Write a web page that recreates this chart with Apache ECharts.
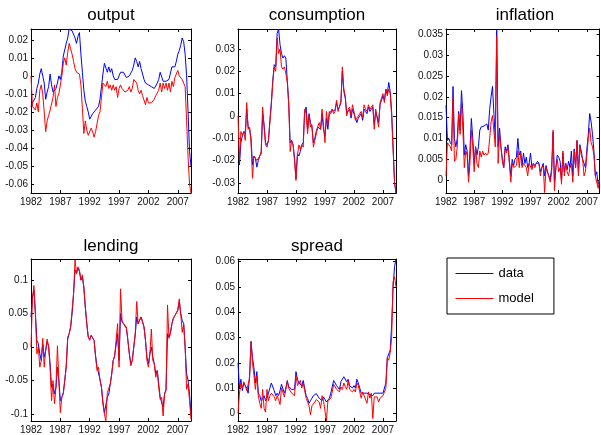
<!DOCTYPE html>
<html><head><meta charset="utf-8">
<script src="https://cdn.jsdelivr.net/npm/echarts@6/dist/echarts.min.js"></script>
<style>html,body{margin:0;padding:0;background:#fff}#c{width:601px;height:435px}</style>
</head><body><div id="c"></div>
<script>
// quarterly observations, 1982Q1 .. 2009Q2
const startYear = 1982;
const nQuarters = 110;
const xTickYears = [1982, 1987, 1992, 1997, 2002, 2007];

const outputData = [
-0.017,-0.015,-0.016,-0.012, -0.007,-0.004,0.001,0.004, 0.005,-0.004,-0.013,-0.009,
-0.006,0.001,-0.005,-0.009, -0.010,-0.007,-0.004,0.000, -0.002,0.002,0.011,0.012,
0.018,0.021,0.026,0.025, 0.025,0.024,0.021,0.018, 0.022,0.024,0.012,0.002,
-0.008,-0.014,-0.017,-0.020, -0.024,-0.023,-0.021,-0.020, -0.019,-0.019,-0.017,-0.013,
-0.006,0.001,0.007,0.007, 0.002,0.005,0.002,0.004, 0.000,-0.002,-0.002,-0.002,
-0.001,0.002,0.001,0.002, 0.001,-0.001,-0.002,0.000, -0.001,0.003,0.006,0.010,
0.008,0.005,0.008,0.004, 0.001,-0.002,-0.004,-0.004, -0.005,-0.005,-0.006,-0.007,
-0.007,-0.006,-0.004,-0.002, 0.002,0.001,-0.003,-0.002, -0.003,-0.002,-0.002,-0.001,
0.005,0.004,0.005,0.008, 0.012,0.014,0.017,0.021, 0.019,0.012,0.000,-0.020,
-0.042,-0.050];
const outputModel = [
0.000,-0.017,-0.018,-0.019, -0.015,-0.020,-0.008,-0.005, -0.010,-0.020,-0.031,-0.025,
-0.022,-0.019,-0.020,-0.012, -0.005,-0.017,-0.012,-0.010, -0.010,0.000,0.007,0.010,
0.006,0.013,0.018,0.015, 0.012,0.008,0.004,0.002, 0.002,0.001,-0.005,-0.018,
-0.032,-0.025,-0.030,-0.033, -0.034,-0.029,-0.031,-0.034, -0.031,-0.030,-0.022,-0.020,
-0.012,-0.004,-0.003,-0.006, -0.003,-0.007,-0.005,-0.008, -0.005,-0.008,-0.006,-0.012,
-0.007,-0.005,-0.007,-0.008, -0.009,-0.008,-0.008,-0.006, -0.009,-0.007,-0.002,-0.001,
-0.004,-0.008,-0.010,-0.008, -0.011,-0.010,-0.016,-0.012, -0.015,-0.016,-0.015,-0.015,
-0.013,-0.011,-0.010,-0.008, -0.004,-0.009,-0.004,-0.007, -0.004,-0.008,-0.004,-0.009,
-0.003,-0.006,-0.001,0.001, 0.003,0.000,0.001,-0.002, -0.002,-0.006,-0.025,-0.045,
-0.060,-0.065];

const consData = [
-0.021,-0.022,-0.012,-0.009, -0.007,-0.008,0.003,-0.005, -0.006,-0.010,-0.022,-0.018,
-0.019,-0.023,-0.020,-0.018, -0.017,0.001,-0.004,-0.012, -0.013,-0.011,-0.002,0.006,
0.016,0.023,0.022,0.037, 0.039,0.032,0.028,0.026, 0.027,0.026,0.016,0.006,
-0.012,-0.011,-0.013,-0.019, -0.028,-0.017,-0.018,-0.016, -0.013,-0.012,0.002,0.004,
-0.006,0.001,-0.003,-0.005, -0.012,-0.010,-0.007,-0.005, -0.005,-0.006,0.001,-0.006,
-0.009,-0.001,-0.006,0.001, 0.002,0.003,0.002,0.003, 0.006,0.003,0.004,0.006,
0.020,0.011,0.008,0.001, 0.002,0.003,-0.001,0.003, 0.001,-0.001,-0.003,-0.001,
0.000,0.001,-0.002,0.003, 0.002,0.001,0.004,0.002, 0.003,0.004,-0.004,0.002,
0.002,-0.003,0.005,0.007, 0.009,0.007,0.012,0.010, 0.015,0.011,0.002,-0.014,
-0.030,-0.035];
const consModel = [
0.000,-0.020,-0.007,-0.009, -0.007,-0.011,0.006,-0.006, -0.005,-0.012,-0.028,-0.018,
-0.018,-0.020,-0.019,-0.018, -0.016,0.004,-0.005,-0.013, -0.014,-0.011,-0.003,0.005,
0.015,0.022,0.020,0.035, 0.028,0.030,0.022,0.021, 0.022,0.019,0.015,0.005,
-0.016,-0.011,-0.013,-0.020, -0.029,-0.018,-0.013,-0.015, -0.013,-0.014,0.003,0.001,
-0.008,0.000,-0.005,-0.004, -0.014,-0.011,-0.008,-0.005, -0.003,-0.006,0.003,-0.004,
-0.012,0.002,-0.004,0.002, 0.001,0.003,0.001,0.002, 0.007,0.002,0.004,0.007,
0.022,0.012,0.009,0.000, 0.003,0.004,0.000,0.005, 0.002,-0.002,-0.001,0.000,
0.000,0.002,-0.001,0.005, 0.003,0.002,0.005,0.003, 0.003,0.005,-0.006,0.003,
0.003,-0.005,0.006,0.008, 0.010,0.006,0.012,0.009, 0.012,0.010,0.000,-0.015,
-0.030,-0.034];

const inflData = [
0.018,0.0095,0.010,0.009, 0.0085,0.0225,0.010,0.008, 0.010,0.0165,0.012,0.0215,
0.016,0.006,0.0085,0.007, 0.001,0.007,0.0148,0.010, 0.004,0.008,0.006,0.008,
0.012,0.0128,0.0125,0.013, 0.0128,0.0135,0.012,0.017, 0.020,0.0225,0.016,0.010,
0.036,0.008,0.0125,0.008, 0.005,0.003,0.008,0.007, 0.0085,0.0045,0.001,0.005,
0.0035,0.005,0.0055,0.010, 0.006,0.007,0.0035,0.0065, 0.004,0.0055,0.003,0.004,
0.0065,0.003,0.004,0.0035, 0.004,0.0045,0.004,0.002, 0.003,0.004,0.001,0.0035,
0.002,0.001,0.000,0.003, 0.0115,-0.0005,0.003,0.006, 0.0055,0.0045,0.000,0.0065,
0.002,0.004,0.0025,0.0045, 0.003,0.007,0.001,0.0075, 0.003,0.0095,0.002,0.0085,
0.007,0.005,0.004,0.003, 0.0075,0.011,0.016,0.014, 0.011,0.007,0.001,0.002,
-0.001,0.000];
const inflModel = [
0.001,0.009,0.0085,0.008, 0.007,0.020,0.0045,0.005, 0.008,0.016,0.011,0.0185,
0.012,0.003,0.007,0.006, -0.0005,0.004,0.012,0.008, 0.002,0.008,0.004,0.003,
0.007,0.0055,0.007,0.006, 0.0065,0.006,0.0065,0.010, 0.014,0.0155,0.0155,0.008,
0.0345,0.004,0.011,0.008, 0.0045,0.003,0.0075,0.0065, 0.008,0.004,-0.0005,0.004,
0.003,0.003,0.0035,0.007, 0.003,0.0065,0.003,0.004, 0.004,0.003,0.001,0.004,
0.004,0.0025,0.004,0.003, 0.004,0.004,0.004,0.001, 0.003,0.0035,-0.003,0.003,
0.002,0.001,-0.0005,0.002, 0.012,-0.0025,0.003,0.005, 0.002,0.003,-0.001,0.007,
0.001,0.004,0.002,0.001, 0.003,0.004,-0.0005,0.007, 0.003,0.0095,0.001,0.008,
0.006,0.005,0.001,0.002, 0.006,0.010,0.0125,0.009, 0.008,0.006,0.001,0.001,
-0.002,0.000];

const lendData = [
0.045,0.075,0.085,0.050, 0.010,0.005,-0.010,-0.020, 0.005,-0.015,-0.005,0.008,
0.002,-0.025,-0.060,-0.055, -0.070,-0.060,-0.030,-0.050, -0.080,-0.075,-0.068,-0.050,
-0.028,0.012,0.020,0.030, 0.050,0.080,0.115,0.110, 0.118,0.113,0.100,0.105,
0.088,0.060,0.035,0.015, 0.012,0.017,0.018,0.010, -0.013,-0.030,-0.030,-0.048,
-0.060,-0.082,-0.098,-0.098, -0.075,-0.070,-0.055,-0.040, -0.020,-0.013,-0.012,0.020,
-0.020,0.050,0.038,0.035, 0.035,0.028,0.010,-0.010, -0.025,-0.020,0.000,0.018,
0.045,0.035,0.040,0.045, 0.045,0.030,0.010,-0.015, -0.025,-0.010,0.000,-0.015,
-0.025,-0.040,-0.035,-0.055, -0.075,-0.075,-0.090,-0.070, -0.063,0.020,0.015,0.022,
0.035,0.043,0.047,0.046, 0.055,0.068,0.050,0.040, 0.035,0.000,-0.040,-0.050,
-0.070,-0.100];
const lendModel = [
0.000,0.072,0.092,0.050, -0.010,0.000,-0.030,-0.020, 0.013,-0.030,-0.005,0.012,
0.000,-0.030,-0.080,-0.050, -0.085,-0.060,0.002,-0.050, -0.098,-0.075,-0.070,-0.050,
-0.030,0.015,0.020,0.030, 0.055,0.080,0.130,0.110, 0.120,0.115,0.100,0.108,
0.090,0.060,0.035,0.015, 0.010,0.018,0.020,0.010, -0.015,-0.035,-0.030,-0.050,
-0.060,-0.085,-0.100,-0.110, -0.068,-0.070,-0.055,-0.040, -0.020,-0.013,-0.013,0.035,
-0.030,0.087,0.040,0.035, 0.037,0.030,0.010,-0.010, -0.028,-0.020,0.000,0.020,
0.068,0.035,0.040,0.045, 0.045,0.030,0.010,-0.020, -0.030,-0.010,0.027,-0.020,
-0.025,-0.045,-0.035,-0.060, -0.078,-0.075,-0.103,-0.070, -0.065,0.063,0.013,0.020,
0.035,0.043,0.047,0.046, 0.055,0.072,0.050,0.022, 0.035,0.000,-0.063,-0.055,
-0.080,-0.108];

const spreadData = [
0.020,0.010,0.0135,0.009, 0.012,0.011,0.010,0.008, 0.015,0.0285,0.022,0.018,
0.012,0.0165,0.008,0.007, 0.005,0.006,0.007,0.005, 0.006,0.008,0.010,0.012,
0.0115,0.009,0.007,0.008, 0.007,0.009,0.0115,0.011, 0.008,0.010,0.013,0.0105,
0.010,0.0095,0.009,0.0095, 0.0165,0.0135,0.012,0.0125, 0.011,0.013,0.010,0.007,
0.006,0.004,0.005,0.006, 0.007,0.0075,0.0078,0.0075, 0.006,0.0065,0.005,0.0065,
0.0055,0.0045,0.005,0.006, 0.008,0.0105,0.013,0.012, 0.011,0.011,0.0095,0.0125,
0.013,0.0145,0.014,0.0125, 0.0135,0.011,0.0105,0.010, 0.011,0.010,0.0135,0.012,
0.010,0.008,0.0085,0.008, 0.0085,0.008,0.008,0.0075, 0.008,0.007,0.008,0.0078,
0.008,0.008,0.008,0.008, 0.008,0.0085,0.012,0.022, 0.022,0.025,0.035,0.050,
0.058,0.061];
const spreadModel = [
0.000,0.008,0.012,0.010, 0.0125,0.011,0.009,0.009, 0.014,0.028,0.020,0.015,
0.0095,0.015,0.007,0.004, 0.002,0.0095,0.002,0.0005, 0.0095,0.005,0.007,0.008,
0.008,0.0065,0.005,0.007, 0.0055,0.0035,0.010,0.0095, 0.0065,0.007,0.0125,0.010,
0.0095,0.008,0.0075,0.007, 0.015,0.011,0.0115,0.013, 0.010,0.012,0.009,0.006,
0.006,0.003,-0.0005,0.003, 0.0035,0.0045,0.0055,0.006, 0.0045,0.002,0.007,0.005,
0.0055,-0.003,0.005,0.0055, 0.006,0.0085,0.0115,0.011, 0.0095,0.0095,0.0085,0.0105,
0.0095,0.012,0.0105,0.0095, 0.013,0.0095,0.010,0.0085, 0.0095,0.0085,0.012,0.011,
0.0085,0.006,0.0085,0.007, 0.0065,0.004,0.0085,0.006, 0.008,-0.002,0.0065,0.006,
0.0065,0.0045,0.006,0.0065, 0.007,0.0065,0.010,0.022, 0.021,0.024,0.030,0.052,
0.054,0.050];

const outputTicks = [-0.06,-0.05,-0.04,-0.03,-0.02,-0.01,0,0.01,0.02];
const consTicks = [-0.03,-0.02,-0.01,0,0.01,0.02,0.03];
const inflTicks = [0,0.005,0.01,0.015,0.02,0.025,0.03,0.035];
const lendTicks = [-0.1,-0.05,0,0.05,0.1];
const spreadTicks = [0,0.01,0.02,0.03,0.04,0.05,0.06];

const seriesNames = ['data', 'model'];
const seriesColors = ['#0000ff', '#ff0000'];

const years = [];
for (let k = 0; k < nQuarters; k++) years.push(startYear + k / 4);
const endYear = years[years.length - 1];

const FONT = '"Liberation Sans", Arial, Helvetica, sans-serif';

const panels = [
  {title:'output', data:outputData, model:outputModel, yMin:-0.065, yMax:0.026, yTicks:outputTicks, box:[31,29,160,164]},
  {title:'consumption', data:consData, model:consModel, yMin:-0.0346, yMax:0.039, yTicks:consTicks, box:[238,29,158,164]},
  {title:'inflation', data:inflData, model:inflModel, yMin:-0.0031, yMax:0.0363, yTicks:inflTicks, box:[446,29,158,164]},
  {title:'lending', data:lendData, model:lendModel, yMin:-0.1104, yMax:0.1316, yTicks:lendTicks, box:[31,259,160,163]},
  {title:'spread', data:spreadData, model:spreadModel, yMin:-0.003, yMax:0.061, yTicks:spreadTicks, box:[238,259,158,163]}
];

const grids = [], xAxes = [], yAxes = [], series = [], titles = [];
const lineAxis = {show:true, onZero:false, lineStyle:{color:'#000', width:1}};
panels.forEach((p, i) => {
  const [l, t, w, h] = p.box;
  grids.push({left:l, top:t, width:w, height:h, show:false});
  const xb = {type:'value', gridIndex:i, min:startYear, max:endYear, axisLine:lineAxis,
    axisTick:{show:true, inside:true, length:3, lineStyle:{color:'#000'}, customValues:xTickYears},
    splitLine:{show:false}};
  xAxes.push(Object.assign({}, xb, {position:'bottom',
    axisLabel:{show:true, customValues:xTickYears, formatter:v => String(Math.round(v)), fontSize:10, color:'#111', margin:4, fontFamily:FONT}}));
  xAxes.push(Object.assign({}, xb, {position:'top', axisLabel:{show:false}}));
  const yb = {type:'value', gridIndex:i, min:p.yMin, max:p.yMax, axisLine:lineAxis,
    axisTick:{show:true, inside:true, length:3, lineStyle:{color:'#000'}, customValues:p.yTicks},
    splitLine:{show:false}};
  yAxes.push(Object.assign({}, yb, {position:'left',
    axisLabel:{show:true, customValues:p.yTicks, formatter:v => String(parseFloat(Number(v).toFixed(4))), fontSize:10, color:'#111', margin:3, fontFamily:FONT}}));
  yAxes.push(Object.assign({}, yb, {position:'right', axisLabel:{show:false}}));
  [p.data, p.model].forEach((vals, s) => {
    series.push({type:'line', name:seriesNames[s], xAxisIndex:2*i, yAxisIndex:2*i,
      data:vals.map((v,k)=>[years[k], v]), symbol:'none', showSymbol:false,
      color:seriesColors[s],
      lineStyle:{color:seriesColors[s], width:1}, itemStyle:{color:seriesColors[s]}, z:2+s, silent:true});
  });
  titles.push({text:p.title, left:l + w/2, top: i < 3 ? 7 : 238, textAlign:'center', padding:0,
    textStyle:{fontSize:17, fontWeight:'normal', color:'#000', fontFamily:FONT}});
});

const chart = echarts.init(document.getElementById('c'), null, {renderer:'canvas'});
chart.setOption({
  animation:false,
  backgroundColor:'#fff',
  color:seriesColors,
  title:titles,
  grid:grids,
  xAxis:xAxes,
  yAxis:yAxes,
  legend:{
    data:seriesNames,
    left:447, top:258, orient:'vertical', itemWidth:38, itemHeight:14,
    itemStyle:{opacity:0}, lineStyle:{width:1},
    itemGap:12, padding:[9,20,9,8], borderColor:'#000', borderWidth:1, backgroundColor:'#fff',
    selectedMode:false, textStyle:{fontSize:13, color:'#000', fontFamily:FONT}},
  series:series
});
</script></body></html>
